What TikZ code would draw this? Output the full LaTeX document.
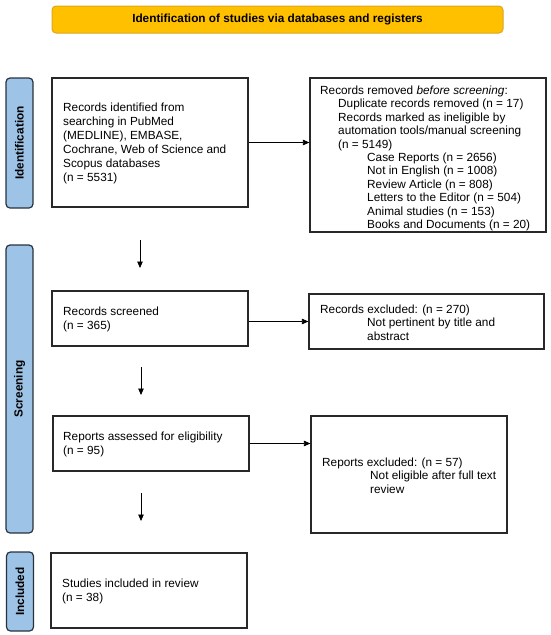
\documentclass[tikz,border=0pt]{standalone}
\usepackage{fontspec}
\setmainfont{Liberation Sans}
\usetikzlibrary{arrows.meta}
\definecolor{titlefill}{RGB}{255,192,0}
\definecolor{titledraw}{RGB}{222,165,30}
\definecolor{barfill}{RGB}{157,195,230}
\definecolor{bardraw}{RGB}{40,50,60}
\definecolor{boxdraw}{RGB}{40,40,40}
\begin{document}
\begin{tikzpicture}[x=1pt,y=-1pt,
  box/.style={draw=boxdraw,line width=1.2pt,fill=white,inner sep=0pt},
  txt/.style={inner sep=0pt,anchor=west,align=left,font=\fontsize{11.8}{14}\selectfont},
  txtb/.style={txt,font=\fontsize{11.8}{13.4}\selectfont},
  sidebar/.style={draw=bardraw,fill=barfill,line width=1.2pt,rounded corners=4pt,inner sep=0pt,rotate=90,minimum height=27,font=\fontsize{11.8}{14}\selectfont\bfseries},
  titlebox/.style={draw=titledraw,fill=titlefill,line width=1pt,rounded corners=4pt,inner sep=0pt,font=\fontsize{11.8}{14}\selectfont\bfseries},
  arr/.style={line width=0.8pt,-{Triangle[length=6.5pt,width=5.5pt]}}]
\useasboundingbox (0,0) rectangle (550,635);

% title
\node[titlebox,minimum width=451,minimum height=27] (title) at (277.5,19.5) {Identification of studies via databases and registers};

% side bars
\node[sidebar,minimum width=130] (idbar) at (19.5,143) {Identification};
\node[sidebar,minimum width=288] (scbar) at (19.5,389) {Screening};
\node[sidebar,minimum width=79] (inbar) at (20,591.5) {Included};

% boxes
\node[box,minimum width=196,minimum height=129] (b1) at (150,142.5) {};
\node[box,minimum width=236,minimum height=154] (b2) at (428,155) {};
\node[box,minimum width=196,minimum height=55] (b3) at (150,318.5) {};
\node[box,minimum width=235,minimum height=55] (b4) at (426.5,321.5) {};
\node[box,minimum width=196,minimum height=55] (b5) at (151,443.5) {};
\node[box,minimum width=196,minimum height=117] (b6) at (409,474.5) {};
\node[box,minimum width=196,minimum height=75] (b7) at (149,590.5) {};

% texts
\node[txt] (t1) at (63,143) {Records identified from\\searching in PubMed\\(MEDLINE), EMBASE,\\Cochrane, Web of Science and\\Scopus databases\\(n = 5531)};
\node[txtb] (t2) at (320,158.5) {Records removed \textit{before screening}:\\
\hspace*{18pt}Duplicate records removed (n = 17)\\
\hspace*{18pt}Records marked as ineligible by\\
\hspace*{18pt}automation tools/manual screening\\
\hspace*{18pt}(n = 5149)\\
\hspace*{47pt}Case Reports (n = 2656)\\
\hspace*{47pt}Not in English (n = 1008)\\
\hspace*{47pt}Review Article (n = 808)\\
\hspace*{47pt}Letters to the Editor (n = 504)\\
\hspace*{47pt}Animal studies (n = 153)\\
\hspace*{47pt}Books and Documents (n = 20)};
\node[txt] (t3) at (63,319) {Records screened\\(n = 365)};
\node[txtb] (t4) at (320,322.5) {Records excluded: (n = 270)\\
\hspace*{47pt}Not pertinent by title and\\
\hspace*{47pt}abstract};
\node[txt] (t5) at (63,444) {Reports assessed for eligibility\\(n = 95)};
\node[txtb] (t6) at (322,475.5) {Reports excluded: (n = 57)\\
\hspace*{48pt}Not eligible after full text\\
\hspace*{48pt}review};
\node[txt] (t7) at (62,591) {Studies included in review\\(n = 38)};

% free arrow coordinates
\coordinate (d1s) at (140,240);
\coordinate (d1e) at (140,268);
\coordinate (d2s) at (141,367);
\coordinate (d2e) at (141,395);
\coordinate (d3s) at (141,493);
\coordinate (d3e) at (141,521);

% connectors
\draw[arr] (b1.east) -- (b1.east -| b2.west);
\draw[arr] (b3.east |- b4.west) -- (b4.west);
\draw[arr] (b5.east) -- (b5.east -| b6.west);
\draw[arr] (d1s) -- (d1e);
\draw[arr] (d2s) -- (d2e);
\draw[arr] (d3s) -- (d3e);
\end{tikzpicture}
\end{document}
